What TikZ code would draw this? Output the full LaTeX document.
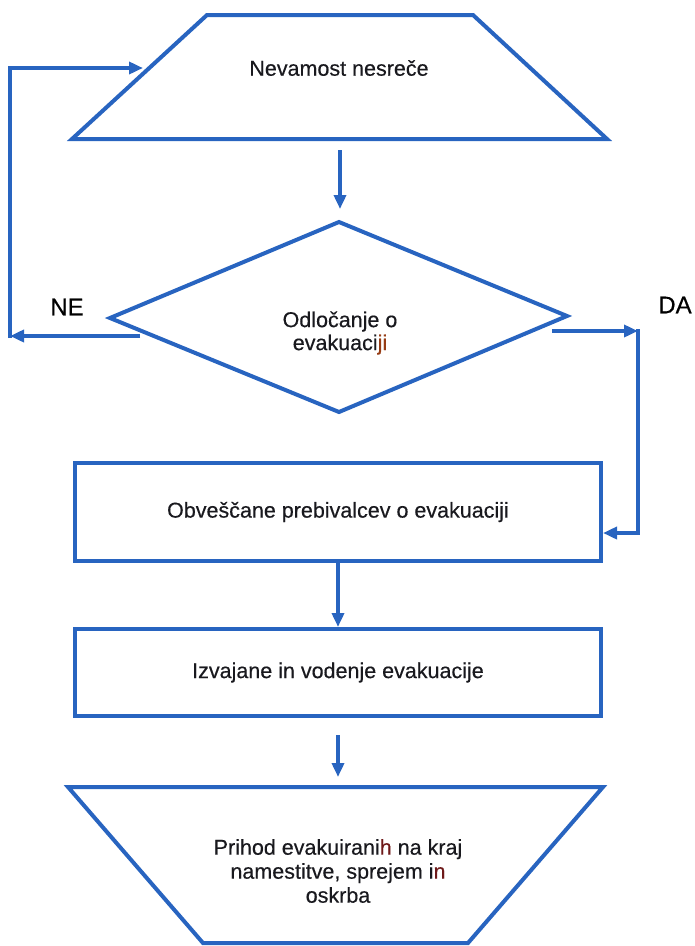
\documentclass[tikz,border=0pt]{standalone}
\usepackage{fontspec}
\setmainfont{Liberation Sans}[FakeBold=0.4]
\usetikzlibrary{arrows.meta}
\definecolor{flowblue}{RGB}{40,100,192}
\definecolor{inktxt}{RGB}{25,25,30}
\definecolor{rust}{RGB}{150,60,20}
\definecolor{darkred}{RGB}{110,25,25}
\begin{document}
\begin{tikzpicture}[x=1pt,y=-1pt,
  shapeline/.style={draw=flowblue,line width=4pt,line join=miter},
  conn/.style={draw=flowblue,line width=4pt},
  arr/.style={conn,-{Triangle[length=14pt,width=12pt]}},
  lbl/.style={text=inktxt,font=\fontsize{21.5}{24}\selectfont,align=center,inner sep=0pt},
  boxnode/.style={draw=flowblue,line width=4pt,inner sep=0pt,text=inktxt,font=\fontsize{21.5}{24}\selectfont,align=center},
  yn/.style={text=black,font=\fontsize{24}{28}\selectfont,inner sep=0pt}]
\useasboundingbox (0,0) rectangle (695,946);
% top trapezoid
\coordinate (t1a) at (207,15);
\coordinate (t1b) at (473,15);
\coordinate (t1c) at (607,139);
\coordinate (t1d) at (72,139);
\draw[shapeline] (t1a) -- (t1b) -- (t1c) -- (t1d) -- cycle;
\node[lbl] (haz) at (339,68) {Nevamost nesreče};
% decision diamond
\coordinate (dl) at (110,318);
\coordinate (dt) at (339,222);
\coordinate (dr) at (567,316);
\coordinate (db) at (339,412);
\draw[shapeline] (dt) -- (dr) -- (db) -- (dl) -- cycle;
\node[lbl,font=\fontsize{21.5}{23}\selectfont] (dec) at (340,333) {Odločanje o\\evakuaci\textcolor{rust}{ji}};
% rectangles
\node[boxnode,minimum width=526pt,minimum height=98pt] (notify) at (338,512) {Obveščane prebivalcev o evakuaciji};
\node[boxnode,minimum width=526pt,minimum height=87pt] (exec) at (338,672.5) {Izvajane in vodenje evakuacije};
% bottom trapezoid
\coordinate (t2a) at (68,787);
\coordinate (t2b) at (603,787);
\coordinate (t2c) at (468,943);
\coordinate (t2d) at (203,943);
\draw[shapeline] (t2a) -- (t2b) -- (t2c) -- (t2d) -- cycle;
\node[lbl] (arrive) at (338,871) {Prihod evakuirani\textcolor{darkred}{h} na kraj\\namestitve, sprejem i\textcolor{darkred}{n}\\oskrba};
% connectors
\coordinate (a1s) at (340,150);
\coordinate (a1e) at (340,209);
\draw[arr] (a1s) -- (a1e);
\coordinate (nes) at (140,336);
\coordinate (nec) at (10,336);
\coordinate (nev) at (10,338);
\coordinate (net) at (143,68);
\draw[arr] (nes) -- (nec);
\draw[arr] (nev) |- (net);
\coordinate (das) at (552,331);
\coordinate (dac) at (638,331);
\coordinate (dav) at (638,329);
\draw[arr] (das) -- (dac);
\draw[arr] (dav) |- ([yshift=-21pt]notify.east);
\draw[arr] (notify.south) -- (exec.north);
\coordinate (a4s) at (338,735);
\coordinate (a4e) at (338,777);
\draw[arr] (a4s) -- (a4e);
% labels
\node[yn] (nelbl) at (67,307) {NE};
\node[yn] (dalbl) at (675,305) {DA};
\end{tikzpicture}
\end{document}
